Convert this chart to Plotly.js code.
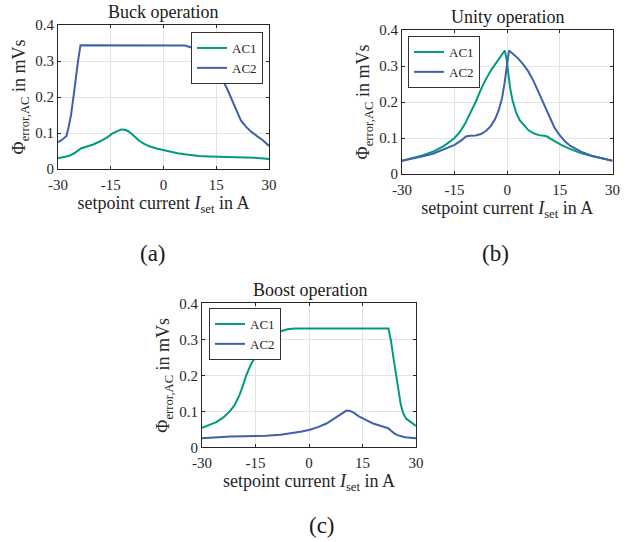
<!DOCTYPE html>
<html>
<head>
<meta charset="utf-8">
<script src="https://cdn.plot.ly/plotly-3.0.1.min.js"></script>
<style>html,body{margin:0;padding:0;background:#fff;}#chart{width:634px;height:542px;}</style>
</head>
<body>
<div id="chart"></div>
<script>
// Buck operation
const buckAC1_x = [-30, -28.5, -27, -25.5, -24.5, -23.5, -22, -20, -18, -16, -14.5, -13, -12, -11, -10, -9, -8, -7, -5.5, -4, -2, 0, 2, 4, 6, 8, 10, 13, 16, 20, 23, 26, 30];
const buckAC1_y = [0.030, 0.032, 0.036, 0.043, 0.050, 0.057, 0.062, 0.068, 0.077, 0.088, 0.099, 0.107, 0.110, 0.109, 0.105, 0.097, 0.088, 0.079, 0.070, 0.063, 0.057, 0.052, 0.048, 0.044, 0.041, 0.038, 0.036, 0.035, 0.034, 0.033, 0.033, 0.031, 0.028];
const buckAC2_x = [-30, -29, -28, -27.6, -27, -26.3, -25.6, -25, -24.3, -23.6, 4.5, 6, 7.5, 9, 10.5, 12, 13.5, 15, 16.5, 18, 19.5, 20.8, 22, 23.5, 25, 26.5, 28, 30];
const buckAC2_y = [0.075, 0.080, 0.088, 0.092, 0.115, 0.150, 0.200, 0.250, 0.300, 0.344, 0.344, 0.343, 0.339, 0.332, 0.322, 0.308, 0.292, 0.275, 0.252, 0.225, 0.190, 0.158, 0.135, 0.117, 0.103, 0.092, 0.082, 0.064];
// Unity operation
const unityAC1_x = [-30, -27, -24, -21, -18, -15, -13.5, -12, -10.5, -9, -7.5, -6, -4.5, -3, -1.5, -0.7, -0.2, 0.3, 0.8, 1.5, 2.5, 3.5, 4.7, 6, 7.5, 9, 10.5, 11.4, 12.5, 14, 15.5, 18, 21, 24, 27, 30];
const unityAC1_y = [0.037, 0.044, 0.052, 0.063, 0.078, 0.100, 0.117, 0.140, 0.170, 0.200, 0.235, 0.265, 0.290, 0.310, 0.330, 0.343, 0.320, 0.280, 0.240, 0.205, 0.172, 0.150, 0.135, 0.122, 0.113, 0.108, 0.106, 0.104, 0.097, 0.088, 0.080, 0.069, 0.058, 0.050, 0.043, 0.037];
const unityAC2_x = [-30, -27, -24, -21, -18, -15, -13, -11.8, -10.5, -9, -7.5, -6, -4.7, -3.5, -2.5, -1.5, -0.8, -0.2, 0.5, 1.5, 3, 4.5, 6, 7.5, 9, 10.5, 12, 13.5, 15, 16.5, 18, 21, 24, 27, 30];
const unityAC2_y = [0.037, 0.042, 0.049, 0.057, 0.068, 0.081, 0.094, 0.104, 0.106, 0.107, 0.111, 0.120, 0.133, 0.152, 0.175, 0.210, 0.250, 0.300, 0.343, 0.335, 0.322, 0.305, 0.285, 0.258, 0.226, 0.192, 0.158, 0.128, 0.107, 0.090, 0.078, 0.062, 0.051, 0.043, 0.037];
// Boost operation
const boostAC1_x = [-30, -28, -26, -24, -22.3, -21, -19.5, -18.5, -17.6, -16.2, -14.8, -13.4, -12, -10.5, -9, -7.5, -6, -4, 22.3, 23, 23.6, 24.3, 25, 25.7, 26.4, 27.2, 28, 29, 30];
const boostAC1_y = [0.054, 0.061, 0.070, 0.083, 0.099, 0.115, 0.145, 0.172, 0.200, 0.232, 0.256, 0.276, 0.292, 0.306, 0.317, 0.324, 0.328, 0.330, 0.330, 0.295, 0.254, 0.205, 0.160, 0.120, 0.095, 0.080, 0.074, 0.066, 0.059];
const boostAC2_x = [-30, -26, -22, -18, -12, -8, -5, -2, 0.2, 2.5, 4.9, 6.5, 8.2, 9.5, 10.5, 11.5, 12.4, 14, 16, 18, 20, 22.2, 23, 24, 25, 26.9, 30];
const boostAC2_y = [0.025, 0.028, 0.030, 0.031, 0.032, 0.035, 0.039, 0.044, 0.049, 0.056, 0.066, 0.076, 0.088, 0.097, 0.102, 0.101, 0.097, 0.086, 0.075, 0.066, 0.060, 0.053, 0.046, 0.038, 0.033, 0.028, 0.025];

const xTickVals = [-30, -15, 0, 15, 30];
const xTickText = ['-30', '-15', '0', '15', '30'];
const yTickVals = [0, 0.1, 0.2, 0.3, 0.4];
const yTickText = ['0', '0.1', '0.2', '0.3', '0.4'];
const seriesNames = ['AC1', 'AC2'];
const panelTitles = ['Buck operation', 'Unity operation', 'Boost operation'];
const panelLabels = ['(a)', '(b)', '(c)'];

const C1 = '#009B7F', C2 = '#4060AD';
const FONT = '"Liberation Serif", "DejaVu Serif", serif';

function tr(x, y, name, color, ax, leg) {
  return {x: x, y: y, name: name, type: 'scatter', mode: 'lines',
    line: {color: color, width: 2},
    xaxis: 'x' + ax, yaxis: 'y' + ax, legend: leg};
}
const data = [
  tr(buckAC1_x, buckAC1_y, seriesNames[0], C1, '', 'legend'),
  tr(buckAC2_x, buckAC2_y, seriesNames[1], C2, '', 'legend'),
  tr(unityAC1_x, unityAC1_y, seriesNames[0], C1, '2', 'legend2'),
  tr(unityAC2_x, unityAC2_y, seriesNames[1], C2, '2', 'legend2'),
  tr(boostAC1_x, boostAC1_y, seriesNames[0], C1, '3', 'legend3'),
  tr(boostAC2_x, boostAC2_y, seriesNames[1], C2, '3', 'legend3'),
];

const W = 634, H = 542;
function xa(x0, x1, anchor) {
  return {domain: [x0 / W, x1 / W], anchor: anchor, range: [-30, 30],
    tickvals: xTickVals, ticktext: xTickText, ticks: 'inside', ticklen: 3,
    tickcolor: '#262626', showline: true, linecolor: '#262626', linewidth: 1, mirror: 'ticks',
    showgrid: true, gridcolor: '#e3e3e3', gridwidth: 1, zeroline: false, ticklabelstandoff: 2,
    tickfont: {family: FONT, size: 15, color: '#262626'},
    title: {text: 'setpoint current <i>I</i><sub>set</sub> in A', font: {family: FONT, size: 18, color: '#262626'}, standoff: 2}};
}
function ya(y0, y1, anchor) {
  return {domain: [1 - y1 / H, 1 - y0 / H], anchor: anchor, range: [0, 0.4],
    tickvals: yTickVals, ticktext: yTickText, ticks: 'inside', ticklen: 3,
    tickcolor: '#262626', showline: true, linecolor: '#262626', linewidth: 1, mirror: 'ticks',
    showgrid: true, gridcolor: '#e3e3e3', gridwidth: 1, zeroline: false,
    tickfont: {family: FONT, size: 15, color: '#262626'},
    title: {text: 'Φ<sub>error,AC</sub> in mVs', font: {family: FONT, size: 18, color: '#262626'}, standoff: 4}};
}
function leg(x, yt, anchor) {
  return {x: x / W, y: 1 - yt / H, xanchor: anchor, yanchor: 'top', bgcolor: '#fff',
    bordercolor: '#333', borderwidth: 1, font: {family: FONT, size: 13, color: '#262626'},
    tracegroupgap: 0, itemwidth: 30};
}
function ann(text, x, y, size) {
  return {text: text, x: x / W, y: 1 - y / H, xref: 'paper', yref: 'paper', showarrow: false,
    xanchor: 'center', yanchor: 'middle', font: {family: FONT, size: size, color: '#1a1a1a'}};
}
const layout = {
  width: W, height: H, margin: {l: 0, r: 0, t: 0, b: 0},
  paper_bgcolor: '#fff', plot_bgcolor: '#fff', showlegend: true,
  font: {family: FONT},
  xaxis: xa(58, 269, 'y'), yaxis: ya(25, 169, 'x'),
  xaxis2: xa(402, 612.5, 'y2'), yaxis2: ya(30, 174, 'x2'),
  xaxis3: xa(202, 416, 'y3'), yaxis3: ya(303.3, 447.3, 'x3'),
  legend: leg(263, 32, 'right'), legend2: leg(408, 36, 'left'), legend3: leg(209, 308, 'left'),
  annotations: [
    ann(panelTitles[0], 163, 12, 18), ann(panelTitles[1], 507, 17, 18), ann(panelTitles[2], 310, 290, 18),
    ann(panelLabels[0], 153, 253, 23), ann(panelLabels[1], 495, 253, 23), ann(panelLabels[2], 322, 525, 23)
  ]
};
Plotly.newPlot('chart', data, layout, {displayModeBar: false, staticPlot: true});
</script>
</body>
</html>
